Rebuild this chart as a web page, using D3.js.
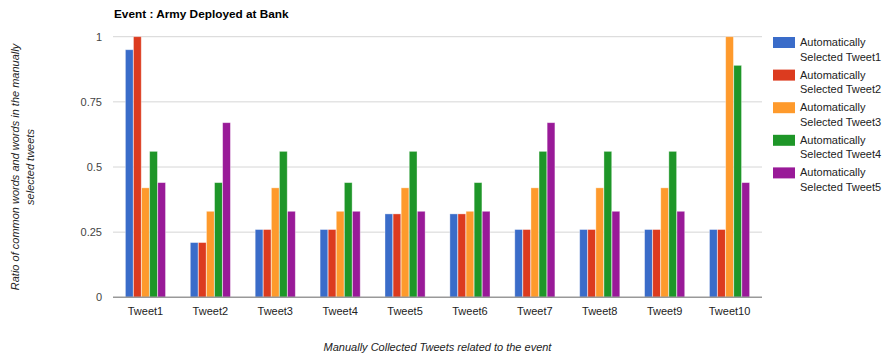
<!DOCTYPE html>
<html>
<head>
<meta charset="utf-8">
<script src="https://cdn.jsdelivr.net/npm/d3@7"></script>
<style>
  html, body { margin: 0; padding: 0; background: #fff; }
  svg { display: block; font-family: Arial, "Liberation Sans", sans-serif; }
</style>
</head>
<body>
<svg id="chart" width="884" height="358"></svg>
<script>
// Manually collected tweets (x categories)
const categories = ["Tweet1", "Tweet2", "Tweet3", "Tweet4", "Tweet5",
                    "Tweet6", "Tweet7", "Tweet8", "Tweet9", "Tweet10"];

// Series names: automatically selected tweets
const seriesNames = ["Automatically Selected Tweet1", "Automatically Selected Tweet2",
                     "Automatically Selected Tweet3", "Automatically Selected Tweet4",
                     "Automatically Selected Tweet5"];

// Ratio values, one array per series (in category order)
const auto1 = [0.95, 0.21, 0.26, 0.26, 0.32, 0.32, 0.26, 0.26, 0.26, 0.26];
const auto2 = [1.00, 0.21, 0.26, 0.26, 0.32, 0.32, 0.26, 0.26, 0.26, 0.26];
const auto3 = [0.42, 0.33, 0.42, 0.33, 0.42, 0.33, 0.42, 0.42, 0.42, 1.00];
const auto4 = [0.56, 0.44, 0.56, 0.44, 0.56, 0.44, 0.56, 0.56, 0.56, 0.89];
const auto5 = [0.44, 0.67, 0.33, 0.33, 0.33, 0.33, 0.67, 0.33, 0.33, 0.44];

const yTicks = [0, 0.25, 0.5, 0.75, 1];
const yTickLabels = ["0", "0.25", "0.5", "0.75", "1"];

const colors = ["#3a6cc9", "#dc3b1f", "#fe9a2c", "#1e9628", "#991a98"];

const titleText = "Event : Army Deployed at Bank";
const xTitle = "Manually Collected Tweets related to the event";
const yTitleLines = ["Ratio of common words and words in the manually", "selected tweets"];

const seriesValues = [auto1, auto2, auto3, auto4, auto5];

const svg = d3.select("#chart");
const plot = { left: 113, right: 762, top: 36.7, bottom: 297.3 };

const x0 = d3.scaleBand().domain(categories).range([plot.left, plot.right]).padding(0);
const groupW = x0.bandwidth() * 0.618;
const x1 = d3.scaleBand().domain(d3.range(seriesNames.length)).range([0, groupW]).paddingInner(0.04);
const y = d3.scaleLinear().domain([0, 1]).range([plot.bottom, plot.top]);

// Horizontal gridlines
svg.append("g")
  .selectAll("line")
  .data(yTicks.filter(d => d > 0))
  .join("line")
  .attr("x1", plot.left).attr("x2", plot.right)
  .attr("y1", d => y(d)).attr("y2", d => y(d))
  .attr("stroke", "#d6d6d6").attr("stroke-width", 1);

// Y axis labels
const yAxis = d3.axisLeft(y).tickValues(yTicks)
  .tickFormat((d, i) => yTickLabels[i]).tickSize(0).tickPadding(11);
const yg = svg.append("g").attr("transform", `translate(${plot.left},0)`).call(yAxis);
yg.select(".domain").remove();
yg.selectAll("text").attr("font-size", 11).attr("fill", "#444")
  .attr("font-family", "Arial, 'Liberation Sans', sans-serif");

// Bars
const groups = svg.append("g")
  .selectAll("g")
  .data(categories)
  .join("g")
  .attr("transform", c => `translate(${x0(c) + (x0.bandwidth() - groupW) / 2},0)`);

groups.selectAll("rect")
  .data((c, ci) => seriesValues.map((vals, si) => ({ si, v: vals[ci] })))
  .join("rect")
  .attr("x", d => x1(d.si))
  .attr("width", x1.bandwidth())
  .attr("y", d => y(d.v))
  .attr("height", d => y(0) - y(d.v))
  .attr("fill", d => colors[d.si])
  .attr("stroke", "#ffffff").attr("stroke-opacity", 0.45).attr("stroke-width", 0.8);

// Baseline
svg.append("line")
  .attr("x1", plot.left).attr("x2", plot.right)
  .attr("y1", y(0)).attr("y2", y(0))
  .attr("stroke", "#999").attr("stroke-width", 1.4);

// X axis labels
const xAxis = d3.axisBottom(x0).tickSize(0).tickPadding(10);
const xg = svg.append("g").attr("transform", `translate(0,${plot.bottom})`).call(xAxis);
xg.select(".domain").remove();
xg.selectAll("text").attr("font-size", 11).attr("fill", "#222")
  .attr("font-family", "Arial, 'Liberation Sans', sans-serif");

// Title
svg.append("text")
  .attr("x", 114).attr("y", 18)
  .attr("font-size", 11.8).attr("font-weight", "bold").attr("fill", "#000")
  .text(titleText);

// X axis title
svg.append("text")
  .attr("x", (plot.left + plot.right) / 2).attr("y", 351)
  .attr("text-anchor", "middle").attr("font-size", 11).attr("font-style", "italic")
  .attr("fill", "#222")
  .text(xTitle);

// Y axis title (two rotated lines)
const yMid = (plot.top + plot.bottom) / 2;
svg.append("g")
  .selectAll("text")
  .data(yTitleLines)
  .join("text")
  .attr("transform", (d, i) => `translate(${19 + i * 15},${yMid}) rotate(-90)`)
  .attr("text-anchor", "middle").attr("font-size", 11).attr("font-style", "italic")
  .attr("fill", "#222")
  .text(d => d);

// Legend
const legend = svg.append("g").attr("transform", "translate(773,37)");
const item = legend.selectAll("g")
  .data(seriesNames)
  .join("g")
  .attr("transform", (d, i) => `translate(0,${i * 32.6})`);
item.append("rect")
  .attr("width", 22).attr("height", 11)
  .attr("fill", (d, i) => colors[i]);
item.append("text")
  .attr("x", 27).attr("y", 9)
  .attr("font-size", 11).attr("fill", "#222")
  .text(d => d.split(" ")[0]);
item.append("text")
  .attr("x", 27).attr("y", 23.5)
  .attr("font-size", 11).attr("fill", "#222")
  .text(d => d.split(" ").slice(1).join(" "));
</script>
</body>
</html>
